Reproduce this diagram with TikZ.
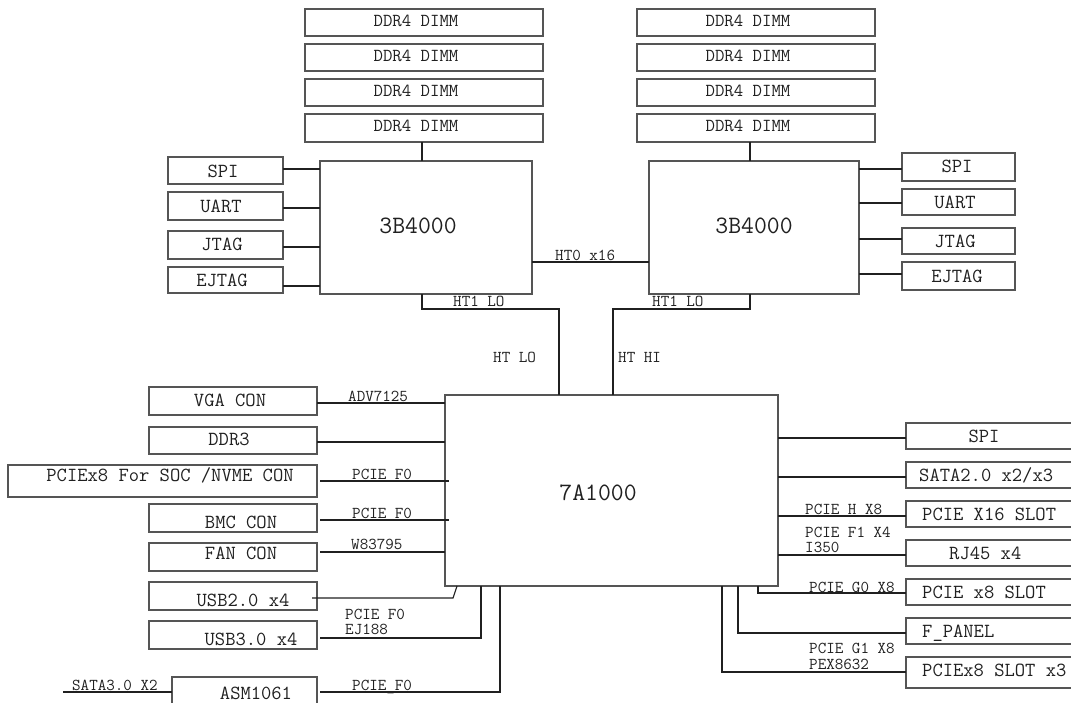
\documentclass[tikz,border=0pt]{standalone}
\usepackage{fontspec}
\definecolor{boxc}{HTML}{555555}
\definecolor{wirec}{HTML}{202020}
\definecolor{txtc}{HTML}{202020}
\newcommand\bx[5]{\node[box, minimum width={(#4-#2)*1pt}, minimum height={(#5-#3)*1pt}] (#1) at ({(#2+#4)/2},{(#3+#5)/2}) {};}
\begin{document}
\begin{tikzpicture}[x=1pt,y=-1pt,
  box/.style={draw=boxc, line width=1.1pt, inner sep=0pt, outer sep=0pt},
  wire/.style={draw=wirec, line width=1.1pt},
  btxt/.style={font=\ttfamily\fontsize{20}{21}\selectfont, text=txtc, inner sep=0pt, anchor=base},
  btxtw/.style={font=\ttfamily\fontsize{20}{21}\selectfont, text=txtc, inner sep=0pt, anchor=base west},
  dtxt/.style={font=\ttfamily\fontsize{18.3}{19}\selectfont, text=txtc, inner sep=0pt, anchor=base},
  ctxt/.style={font=\ttfamily\fontsize{25}{26}\selectfont, text=txtc, inner sep=0pt, anchor=base},
  lbl/.style={font=\ttfamily\fontsize{16.6}{17}\selectfont, text=txtc, inner sep=0pt, anchor=base west}]
\useasboundingbox (0,0) rectangle (1071,702);
% DIMMs
\bx{dl1}{305}{9}{543}{36}\bx{dl2}{305}{44}{543}{71}\bx{dl3}{305}{79}{543}{106}\bx{dl4}{305}{114}{543}{142}
\bx{dr1}{637}{9}{875}{36}\bx{dr2}{637}{44}{875}{71}\bx{dr3}{637}{79}{875}{106}\bx{dr4}{637}{114}{875}{142}
\node[dtxt] (tdl1) at (416,26) {DDR4 DIMM};
\node[dtxt] (tdl2) at (416,61) {DDR4 DIMM};
\node[dtxt] (tdl3) at (416,96) {DDR4 DIMM};
\node[dtxt] (tdl4) at (416,131) {DDR4 DIMM};
\node[dtxt] (tdr1) at (748,26) {DDR4 DIMM};
\node[dtxt] (tdr2) at (748,61) {DDR4 DIMM};
\node[dtxt] (tdr3) at (748,96) {DDR4 DIMM};
\node[dtxt] (tdr4) at (748,131) {DDR4 DIMM};
% CPUs
\bx{cpuL}{320}{161}{532}{294}
\bx{cpuR}{649}{161}{859}{294}
\node[ctxt] (tcpuL) at (418,233) {3B4000};
\node[ctxt] (tcpuR) at (754,233) {3B4000};
% left small boxes
\bx{spiL}{168}{157}{283}{184}\bx{uartL}{168}{192}{283}{220}\bx{jtagL}{168}{231}{283}{259}\bx{ejtagL}{168}{267}{283}{293}
\node[btxt] (tspiL) at (223,177) {SPI};
\node[btxt] (tuartL) at (221,212) {UART};
\node[btxt] (tjtagL) at (222,250) {JTAG};
\node[btxt] (tejtagL) at (222,286) {EJTAG};
% right small boxes
\bx{spiR}{902}{153}{1015}{181}\bx{uartR}{902}{189}{1015}{215}\bx{jtagR}{902}{228}{1015}{254}\bx{ejtagR}{902}{262}{1015}{290}
\node[btxt] (tspiR) at (957,172) {SPI};
\node[btxt] (tuartR) at (955,208) {UART};
\node[btxt] (tjtagR) at (955,247) {JTAG};
\node[btxt] (tejtagR) at (957,282) {EJTAG};
% bridge
\bx{br}{445}{395}{778}{586}
\node[ctxt] (tbr) at (598,500) {7A1000};
% left boxes of bridge
\bx{vga}{149}{387}{317}{415}\bx{ddr3}{149}{427}{317}{454}\bx{pcx}{8}{465}{317}{497}
\bx{bmc}{149}{504}{317}{532}\bx{fan}{149}{543}{317}{571}\bx{usb2}{149}{582}{317}{610}
\bx{usb3}{149}{621}{317}{649}\bx{asm}{172}{677}{317}{714}
\node[btxt] (tvga) at (230,406) {VGA CON};
\node[btxt] (tddr3) at (229,445) {DDR3};
\node[btxt] (tpcx) at (170,481) {PCIEx8 For SOC /NVME CON};
\node[btxt] (tbmc) at (241,528) {BMC CON};
\node[btxt] (tfan) at (241,559) {FAN CON};
\node[btxt] (tusb2) at (243,606) {USB2.0 x4};
\node[btxt] (tusb3) at (251,645) {USB3.0 x4};
\node[btxt] (tasm) at (256,699) {ASM1061};
% right boxes of bridge
\bx{spi2}{906}{423}{1090}{449}\bx{sata}{906}{462}{1090}{488}\bx{x16}{906}{501}{1090}{527}
\bx{rj}{906}{540}{1090}{566}\bx{x8}{906}{579}{1090}{605}\bx{fp}{906}{618}{1090}{644}\bx{x8c}{906}{657}{1090}{688}
\node[btxt] (tspi2) at (984,442) {SPI};
\node[btxtw] (tsata) at (919,481) {SATA2.0 x2/x3};
\node[btxtw] (tx16) at (922,520) {PCIE X16 SLOT};
\node[btxtw] (trj) at (949,559) {RJ45 x4};
\node[btxtw] (tx8) at (922,598) {PCIE x8 SLOT};
\node[btxtw] (tfp) at (922,637) {F\_PANEL};
\node[btxtw] (tx8c) at (922,676) {PCIEx8 SLOT x3};
% connectors: DIMMs to CPUs
\draw[wire] (dl4.south -| 422,0) -- (cpuL.north -| 422,0);
\draw[wire] (dr4.south -| 750,0) -- (cpuR.north -| 750,0);
% left small
\draw[wire] (spiL.east |- 0,169) -- (cpuL.west |- 0,169);
\draw[wire] (uartL.east |- 0,208) -- (cpuL.west |- 0,208);
\draw[wire] (jtagL.east |- 0,247) -- (cpuL.west |- 0,247);
\draw[wire] (ejtagL.east |- 0,286) -- (cpuL.west |- 0,286);
% right small
\draw[wire] (cpuR.east |- 0,169) -- (spiR.west |- 0,169);
\draw[wire] (cpuR.east |- 0,203) -- (uartR.west |- 0,203);
\draw[wire] (cpuR.east |- 0,239) -- (jtagR.west |- 0,239);
\draw[wire] (cpuR.east |- 0,274) -- (ejtagR.west |- 0,274);
% HT links
\draw[wire] (cpuL.east |- 0,262) -- (cpuR.west |- 0,262);
\node[lbl] (lht0) at (555,260) {HT0 x16};
\coordinate (bl1) at (422,309);
\coordinate (bl2) at (559,309);
\draw[wire] (cpuL.south -| bl1) -- (bl1) -- (bl2) -- (br.north -| bl2);
\coordinate (br1) at (750,309);
\coordinate (br2) at (613,309);
\draw[wire] (cpuR.south -| br1) -- (br1) -- (br2) -- (br.north -| br2);
\node[lbl] (lht1l) at (453,306) {HT1 LO};
\node[lbl] (lht1r) at (652,306) {HT1 LO};
\node[lbl] (lhtlo) at (493,362) {HT LO};
\node[lbl] (lhthi) at (618,362) {HT HI};
% left of bridge
\draw[wire] (vga.east |- 0,403) -- (br.west |- 0,403);
\draw[wire] (ddr3.east |- 0,442) -- (br.west |- 0,442);
\draw[wire] ([xshift=3pt]pcx.east |- 0,481) -- ([xshift=4pt]br.west |- 0,481);
\draw[wire] ([xshift=3pt]bmc.east |- 0,520) -- ([xshift=4pt]br.west |- 0,520);
\draw[wire] ([xshift=3pt]fan.east |- 0,552) -- (br.west |- 0,552);
\coordinate (u2a) at (453,598);
\draw[wire] ([xshift=-5pt]usb2.east |- 0,598) -- (u2a) -- (br.south -| 457,0);
\coordinate (u3a) at (481,638);
\draw[wire] ([xshift=3pt]usb3.east |- 0,638) -- (u3a) -- (br.south -| u3a);
\coordinate (asa) at (500,692);
\draw[wire] ([xshift=3pt]asm.east |- 0,692) -- (asa) -- (br.south -| asa);
\coordinate (sataend) at (63,692);
\draw[wire] (sataend) -- (asm.west |- 0,692);
\node[lbl] (ladv) at (348,401) {ADV7125};
\node[lbl] (lpf1) at (352,479) {PCIE F0};
\node[lbl] (lpf2) at (352,518) {PCIE F0};
\node[lbl] (lw83) at (351,549) {W83795};
\node[lbl] (lpf3) at (345,619) {PCIE F0};
\node[lbl] (lej) at (345,634) {EJ188};
\node[lbl] (lpf4) at (352,690) {PCIE\_F0};
\node[lbl] (lsata3) at (72,690) {SATA3.0 X2};
% right of bridge
\draw[wire] (br.east |- 0,438) -- (spi2.west |- 0,438);
\draw[wire] (br.east |- 0,477) -- (sata.west |- 0,477);
\draw[wire] (br.east |- 0,516) -- (x16.west |- 0,516);
\draw[wire] (br.east |- 0,555) -- (rj.west |- 0,555);
\coordinate (g0) at (758,593);
\draw[wire] (br.south -| g0) -- (g0) -- (x8.west |- g0);
\coordinate (fpc) at (738,633);
\draw[wire] (br.south -| fpc) -- (fpc) -- (fp.west |- fpc);
\coordinate (g1) at (722,672);
\draw[wire] (br.south -| g1) -- (g1) -- (x8c.west |- g1);
\node[lbl] (lph) at (805,514) {PCIE H X8};
\node[lbl] (lpf1r) at (805,537) {PCIE F1 X4};
\node[lbl] (li350) at (805,552) {I350};
\node[lbl] (lpg0) at (809,592) {PCIE G0 X8};
\node[lbl] (lpg1) at (809,653) {PCIE G1 X8};
\node[lbl] (lpex) at (809,669) {PEX8632};
\end{tikzpicture}
\end{document}
